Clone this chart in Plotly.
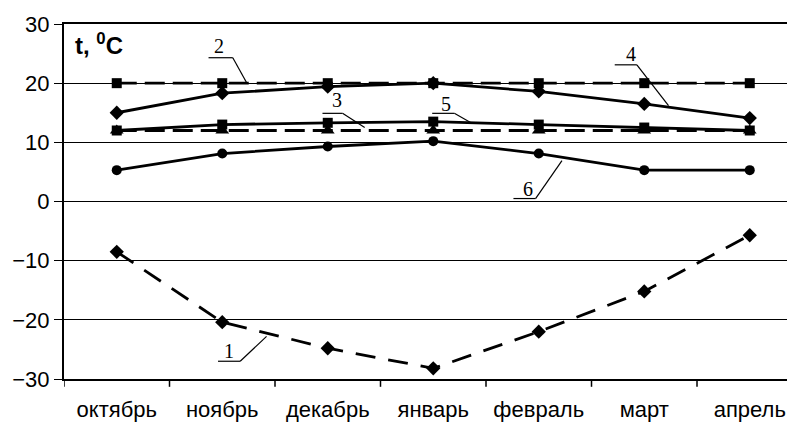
import plotly.graph_objects as go

months = ["октябрь", "ноябрь", "декабрь", "январь", "февраль", "март", "апрель"]
s1 = [-8.5, -20.4, -24.8, -28.2, -22.0, -15.2, -5.7]
s2 = [20, 20, 20, 20, 20, 20, 20]
s3 = [12.0, 13.0, 13.3, 13.5, 13.0, 12.5, 12.0]
s4 = [15.0, 18.3, 19.4, 20.0, 18.6, 16.5, 14.1]
s5 = [12, 12, 12, 12, 12, 12, 12]
s6 = [5.3, 8.1, 9.3, 10.2, 8.1, 5.3, 5.3]

labels = ["1", "2", "3", "4", "5", "6"]
label_pos = [(1.06, -25.2), (0.97, 26.2), (2.09, 17.2), (4.87, 25.0), (3.12, 16.5), (3.90, 2.1)]
leaders = [
    [(0.96, -27.0), (1.17, -27.0), (1.42, -22.8)],
    [(0.87, 24.3), (1.10, 24.3), (1.23, 20.1)],
    [(1.95, 14.9), (2.14, 14.9), (2.35, 12.5)],
    [(4.72, 23.1), (4.93, 23.1), (5.23, 16.2)],
    [(2.99, 14.9), (3.20, 14.9), (3.37, 13.2)],
    [(3.76, 0.5), (3.97, 0.5), (4.22, 6.9)],
]

x = list(range(len(months)))
fig = go.Figure()
def add(y, dash, symbol, size):
    fig.add_trace(go.Scatter(x=x, y=y, mode="lines+markers",
                             line=dict(color="black", width=2.8, dash=dash),
                             marker=dict(symbol=symbol, size=size, color="black"),
                             showlegend=False, cliponaxis=False))

add(s6, "solid", "circle", 10)
add(s5, "20px,8px", "triangle-up", 12)
add(s3, "solid", "square", 10)
add(s4, "solid", "diamond", 11)
add(s2, "20px,8px", "square", 10)
add(s1, "20px,13px", "diamond", 11)

for lab, (lx, ly), pts in zip(labels, label_pos, leaders):
    fig.add_annotation(x=lx, y=ly, text=lab, showarrow=False,
                       font=dict(family="Liberation Serif", size=20, color="black"))
    for (xa, ya), (xb, yb) in zip(pts[:-1], pts[1:]):
        fig.add_shape(type="line", x0=xa, y0=ya, x1=xb, y1=yb,
                      line=dict(color="black", width=1.2))

fig.add_annotation(xref="paper", yref="paper", x=0.012, y=0.945, xanchor="left",
                   yanchor="middle", text="<b>t, <sup>0</sup>C</b>", showarrow=False,
                   font=dict(family="Liberation Sans", size=24, color="black"))

fig.update_layout(
    width=787, height=427,
    margin=dict(l=64, r=0, t=24, b=48),
    plot_bgcolor="white", paper_bgcolor="white",
    font=dict(family="Liberation Sans", size=22, color="black"),
    xaxis=dict(range=[-0.5, 6.353], tickvals=x, ticktext=months,
               tickfont=dict(family="Liberation Sans", size=22, color="black"),
               showgrid=False, zeroline=False, showline=True, linecolor="black",
               linewidth=2, mirror=True, ticks="", ticklabelstandoff=10),
    yaxis=dict(range=[-30, 30], tickvals=[-30, -20, -10, 0, 10, 20, 30],
               tickfont=dict(family="Liberation Sans", size=22, color="black"),
               showgrid=True, gridcolor="black", gridwidth=1, zeroline=False,
               showline=True, linecolor="black", linewidth=2,
               ticks="outside", ticklen=8, tickwidth=1, tickcolor="black"),
)
for b in [-0.5, 0.5, 1.5, 2.5, 3.5, 4.5, 5.5]:
    fig.add_shape(type="line", xref="x", yref="paper", x0=b, x1=b, y0=0, y1=-0.022,
                  line=dict(color="black", width=1.5))

fig.write_html("out.html")
